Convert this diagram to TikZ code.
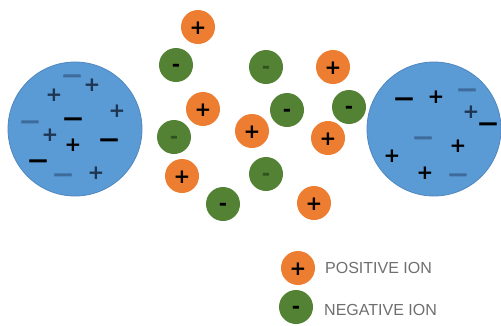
\documentclass[tikz,border=0pt]{standalone}
\usepackage{fontspec}
\setmainfont{Liberation Sans}
\newfontfamily\signfont{DejaVu Sans}
\definecolor{ionblue}{HTML}{5B9BD5}
\definecolor{ionblueedge}{HTML}{4F86BF}
\definecolor{ionorange}{HTML}{ED7D31}
\definecolor{iongreen}{HTML}{548235}
\definecolor{fadeblue}{HTML}{3D6C9C}
\definecolor{darkblue}{HTML}{1E3552}
\definecolor{fadegreen}{HTML}{2E5220}
\definecolor{legendgray}{HTML}{6E6E6E}
\begin{document}
\begin{tikzpicture}[x=1pt,y=-1pt,
  bigball/.style={circle,fill=ionblue,draw=ionblueedge,line width=0.8pt,minimum size=134pt,inner sep=0pt},
  posball/.style={circle,fill=ionorange,minimum size=34pt,inner sep=0pt},
  negball/.style={circle,fill=iongreen,minimum size=34pt,inner sep=0pt},
  plussign/.style={anchor=base,yshift=-7pt,inner sep=0pt,font=\signfont\bfseries\fontsize{20}{20}\selectfont},
  minussign/.style={anchor=base,yshift=-7pt,inner sep=0pt,font=\signfont\bfseries\fontsize{20}{20}\selectfont},
  hyphsign/.style={anchor=base,yshift=-6pt,inner sep=0pt,font=\signfont\bfseries\fontsize{20}{20}\selectfont},
  legendtext/.style={anchor=west,inner sep=0pt,text=legendgray,font=\fontsize{16}{16}\selectfont}
]
\useasboundingbox (0,0) rectangle (501,325);
\newcommand\bigminus{\scalebox{1.4}[1.3]{−}}
% big charged spheres
\node[bigball] (L) at (75,129) {};
\node[bigball] (R) at (434,129) {};
% signs in left sphere
\node[minussign,text=fadeblue] (l1) at (72,77) {\bigminus};
\node[plussign,text=darkblue] (l2) at (92,84) {+};
\node[plussign,text=darkblue] (l3) at (54,94) {+};
\node[plussign,text=darkblue] (l4) at (117,110) {+};
\node[minussign,text=fadeblue] (l5) at (30,123) {\bigminus};
\node[minussign,text=black] (l6) at (73,120) {\bigminus};
\node[plussign,text=darkblue] (l7) at (50,134) {+};
\node[plussign,text=black] (l8) at (73,144) {+};
\node[minussign,text=black] (l9) at (109,141) {\bigminus};
\node[minussign,text=black] (l10) at (38,162) {\bigminus};
\node[minussign,text=fadeblue] (l11) at (63,176) {\bigminus};
\node[plussign,text=darkblue] (l12) at (96,172) {+};
% signs in right sphere
\node[minussign,text=black] (r1) at (404,100) {\bigminus};
\node[plussign,text=black] (r2) at (436,96) {+};
\node[minussign,text=fadeblue] (r3) at (467,91) {\bigminus};
\node[plussign,text=darkblue] (r4) at (471,111) {+};
\node[minussign,text=black] (r5) at (488,125) {\bigminus};
\node[minussign,text=fadeblue] (r6) at (423,139) {\bigminus};
\node[plussign,text=black] (r7) at (458,145) {+};
\node[plussign,text=black] (r8) at (392,155) {+};
\node[plussign,text=black] (r9) at (425,172) {+};
\node[minussign,text=fadeblue] (r10) at (458,176) {\bigminus};
% positive ions
\node[posball] (p1) at (198,27) {};
\node[posball] (p2) at (333,67) {};
\node[posball] (p3) at (203,109) {};
\node[posball] (p4) at (252,131) {};
\node[posball] (p5) at (328,138) {};
\node[posball] (p6) at (182,176) {};
\node[posball] (p7) at (314,203) {};
\foreach \n in {p1,p2,p3,p4,p5,p6,p7}
  \node[plussign,text=black] (s\n) at (\n) {+};
% negative ions
\node[negball] (n1) at (176,65) {};
\node[negball] (n2) at (266,67) {};
\node[negball] (n3) at (287,110) {};
\node[negball] (n4) at (349,107) {};
\node[negball] (n5) at (174,137) {};
\node[negball] (n6) at (266,174) {};
\node[negball] (n7) at (223,204) {};
\foreach \n in {n1,n3,n4,n7}
  \node[hyphsign,text=black] (s\n) at (\n) {-};
\foreach \n in {n2,n5,n6}
  \node[hyphsign,text=fadegreen] (s\n) at (\n) {-};
% legend
\node[posball] (kp) at (298,268) {};
\node[plussign,text=black] (kps) at (kp) {+};
\node[negball] (kn) at (296,307) {};
\node[hyphsign,text=black] (kns) at (kn) {-};
\node[legendtext] (kpt) at (325,268) {POSITIVE ION};
\node[legendtext] (knt) at (324,310) {NEGATIVE ION};
\end{tikzpicture}
\end{document}
